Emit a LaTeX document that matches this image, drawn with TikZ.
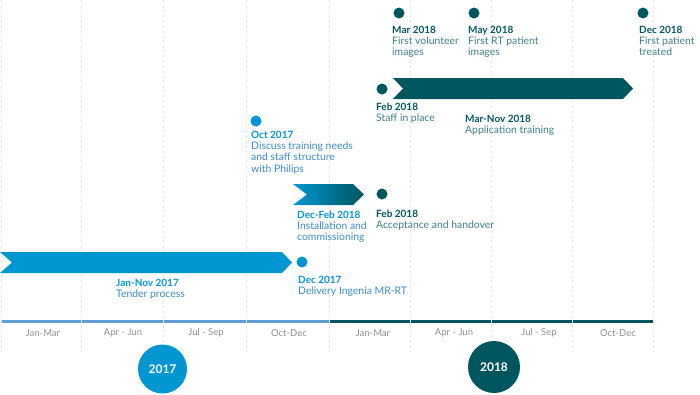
\documentclass[tikz,border=0pt]{standalone}
\usepackage{fontspec}
\setmainfont{Lato}
\definecolor{lblue}{HTML}{0096D2}
\definecolor{dteal}{HTML}{00565F}
\definecolor{bdesc}{HTML}{3A8DC2}
\definecolor{tdesc}{HTML}{3E7F87}
\definecolor{qblue}{HTML}{5E9ED6}
\definecolor{qgray}{HTML}{8E8E8E}
\definecolor{gridc}{HTML}{E8E8E8}
\tikzset{
  gridline/.style={draw=gridc, line width=0.8pt, dash pattern=on 3pt off 2pt},
  dotb/.style={circle, fill=lblue, inner sep=0, minimum size=11pt},
  dott/.style={circle, fill=dteal, inner sep=0, minimum size=11pt},
  evt/.style={anchor=north west, inner sep=0, align=left, font=\fontsize{10.4}{11.4}\selectfont},
  qlab/.style={text=qgray, font=\fontsize{9.5}{11}\selectfont, inner sep=0},
  yearb/.style={circle, fill=lblue, inner sep=0, minimum size=49pt, text=white, font=\fontsize{12}{14}\selectfont\bfseries},
  yeart/.style={circle, fill=dteal, inner sep=0, minimum size=52pt, text=white, font=\fontsize{12}{14}\selectfont\bfseries},
}
\newcommand{\btl}[1]{\textcolor{lblue}{\fontsize{10}{11.4}\selectfont\bfseries #1}}
\newcommand{\ttl}[1]{\textcolor{dteal}{\fontsize{10}{11.4}\selectfont\bfseries #1}}
\begin{document}
\begin{tikzpicture}[x=1pt,y=-1pt]
\useasboundingbox (0,0) rectangle (700,394);
% grid lines
\foreach \x in {1,81,163,246,329,410,491,572,653}
  \draw[gridline] (\x,0) -- (\x,352);
% quarter bar
\foreach \a/\b in {1/81,81/163,163/246,246/329}
  \fill[qblue] (\a+0.5,319.5) rectangle (\b-0.5,323);
\foreach \a/\b in {329/410,410/491,491/572,572/653}
  \fill[dteal] (\a+0.5,319.5) rectangle (\b-0.5,323);
% quarter labels
\foreach \x/\t in {43/Jan-Mar,123/Apr - Jun,206/Jul - Sep,289/Oct-Dec,373/Jan-Mar,454/Apr - Jun,539/Jul - Sep,618/Oct-Dec}
  \node[qlab] at (\x,333) {\t};
% year circles
\node[yearb] (y17) at (162.5,369) {2017};
\node[yeart] (y18) at (494,367) {2018};
% arrows
\fill[lblue] (0,252) -- (282,252) -- (292,262.5) -- (282,273) -- (0,273) -- (12,262.5) -- cycle;
\shade[left color=lblue, right color=dteal] (293,184) -- (353,184) -- (364,194.5) -- (353,205) -- (293,205) -- (307,194.5) -- cycle;
\fill[dteal] (393,78) -- (623,78) -- (633,88.5) -- (623,99) -- (393,99) -- (403,88.5) -- cycle;
% dots
\node[dott] (dmar) at (399,13) {};
\node[dott] (dmay) at (474,13) {};
\node[dott] (ddec) at (643,13) {};
\node[dott] (dstaff) at (382,89) {};
\node[dotb] (doct) at (256,121) {};
\node[dott] (dacc) at (382,194) {};
\node[dotb] (ddel) at (302,262) {};
% texts
\node[evt] (tmar) at (392,25.5) {\ttl{Mar 2018}\\\textcolor{tdesc}{First volunteer}\\\textcolor{tdesc}{images}};
\node[evt] (tmay) at (468,25.5) {\ttl{May 2018}\\\textcolor{tdesc}{First RT patient}\\\textcolor{tdesc}{images}};
\node[evt] (tdec) at (639,25.5) {\ttl{Dec 2018}\\\textcolor{tdesc}{First patient}\\\textcolor{tdesc}{treated}};
\node[evt] (tstaff) at (376,102.5) {\ttl{Feb 2018}\\\textcolor{tdesc}{Staff in place}};
\node[evt] (tapp) at (465,114.5) {\ttl{Mar-Nov 2018}\\\textcolor{tdesc}{Application training}};
\node[evt] (toct) at (251,130.5) {\btl{Oct 2017}\\\textcolor{bdesc}{Discuss training needs}\\\textcolor{bdesc}{and staff structure}\\\textcolor{bdesc}{with Philips}};
\node[evt] (tinst) at (297,210.5) {\btl{Dec-Feb 2018}\\\textcolor{bdesc}{Installation and}\\\textcolor{bdesc}{commissioning}};
\node[evt] (tacc) at (376,209.5) {\ttl{Feb 2018}\\\textcolor{tdesc}{Acceptance and handover}};
\node[evt] (tdel) at (298,275.5) {\btl{Dec 2017}\\\textcolor{bdesc}{Delivery Ingenia MR-RT}};
\node[evt] (ttend) at (116,278.5) {\btl{Jan-Nov 2017}\\\textcolor{bdesc}{Tender process}};
\end{tikzpicture}
\end{document}
